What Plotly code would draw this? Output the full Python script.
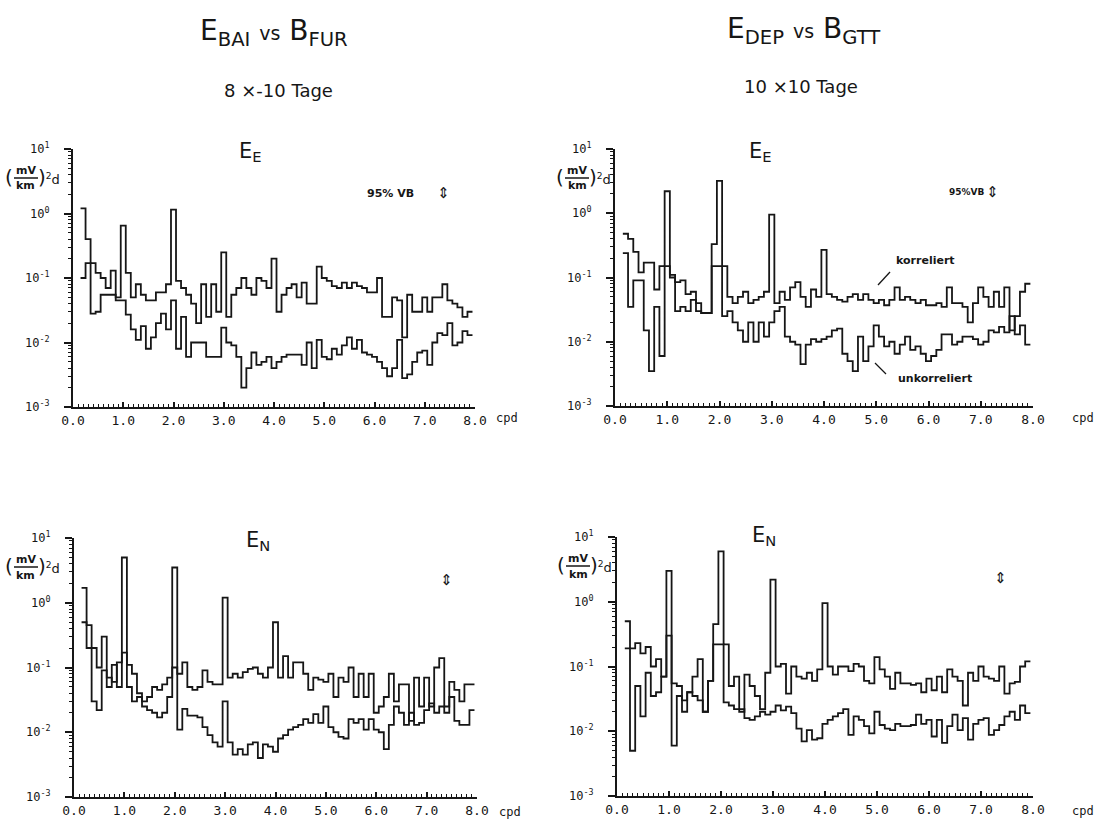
import plotly.graph_objects as go

# ---------------- data ----------------
# bin centre frequencies (cpd), bin width 0.1
FREQ = [0.2, 0.3, 0.4, 0.5, 0.6, 0.7, 0.8, 0.9,
        1.0, 1.1, 1.2, 1.3, 1.4, 1.5, 1.6, 1.7, 1.8, 1.9,
        2.0, 2.1, 2.2, 2.3, 2.4, 2.5, 2.6, 2.7, 2.8, 2.9,
        3.0, 3.1, 3.2, 3.3, 3.4, 3.5, 3.6, 3.7, 3.8, 3.9,
        4.0, 4.1, 4.2, 4.3, 4.4, 4.5, 4.6, 4.7, 4.8, 4.9,
        5.0, 5.1, 5.2, 5.3, 5.4, 5.5, 5.6, 5.7, 5.8, 5.9,
        6.0, 6.1, 6.2, 6.3, 6.4, 6.5, 6.6, 6.7, 6.8, 6.9,
        7.0, 7.1, 7.2, 7.3, 7.4, 7.5, 7.6, 7.7, 7.8, 7.9]
BIN_WIDTH = 0.1

# top-left: E_BAI vs B_FUR, E_E
BAI_EE_KORR = [1.2, 0.40, 0.17, 0.12, 0.10, 0.07, 0.13, 0.05,
               0.65, 0.12, 0.05, 0.08, 0.055, 0.045, 0.045, 0.06, 0.06, 0.08,
               1.15, 0.09, 0.07, 0.055, 0.04, 0.02, 0.08, 0.025, 0.08, 0.03,
               0.25, 0.025, 0.055, 0.07, 0.10, 0.07, 0.055, 0.10, 0.09, 0.07,
               0.20, 0.03, 0.055, 0.07, 0.08, 0.05, 0.085, 0.04, 0.04, 0.15,
               0.10, 0.09, 0.075, 0.07, 0.085, 0.07, 0.085, 0.075, 0.07, 0.06,
               0.06, 0.10, 0.025, 0.025, 0.05, 0.045, 0.012, 0.055, 0.03, 0.03,
               0.05, 0.03, 0.05, 0.05, 0.08, 0.045, 0.04, 0.035, 0.025, 0.03]
BAI_EE_UNKORR = [0.10, 0.17, 0.028, 0.03, 0.055, 0.055, 0.055, 0.045,
                 0.045, 0.027, 0.016, 0.011, 0.018, 0.008, 0.012, 0.02, 0.028, 0.016,
                 0.045, 0.008, 0.025, 0.006, 0.01, 0.01, 0.01, 0.006, 0.006, 0.006,
                 0.017, 0.01, 0.009, 0.006, 0.002, 0.004, 0.007, 0.0045, 0.005, 0.006,
                 0.004, 0.005, 0.006, 0.0065, 0.0065, 0.0065, 0.0045, 0.01, 0.004, 0.011,
                 0.006, 0.0055, 0.008, 0.0065, 0.009, 0.012, 0.008, 0.011, 0.007, 0.0065,
                 0.006, 0.005, 0.004, 0.003, 0.004, 0.011, 0.0028, 0.0032, 0.005, 0.007,
                 0.0075, 0.0045, 0.01, 0.014, 0.013, 0.02, 0.009, 0.01, 0.015, 0.013]

# top-right: E_DEP vs B_GTT, E_E
DEP_EE_KORR = [0.48, 0.40, 0.25, 0.12, 0.17, 0.17, 0.065, 0.15,
               2.2, 0.11, 0.085, 0.09, 0.055, 0.06, 0.04, 0.028, 0.028, 0.33,
               3.2, 0.15, 0.05, 0.04, 0.05, 0.06, 0.04, 0.045, 0.05, 0.06,
               0.95, 0.04, 0.06, 0.045, 0.07, 0.085, 0.05, 0.035, 0.065, 0.05,
               0.27, 0.055, 0.05, 0.045, 0.042, 0.05, 0.055, 0.045, 0.055, 0.045,
               0.04, 0.045, 0.037, 0.045, 0.07, 0.045, 0.05, 0.045, 0.04, 0.045,
               0.037, 0.037, 0.04, 0.035, 0.07, 0.04, 0.04, 0.035, 0.02, 0.04,
               0.07, 0.05, 0.035, 0.06, 0.035, 0.07, 0.015, 0.025, 0.06, 0.08]
DEP_EE_UNKORR = [0.24, 0.035, 0.09, 0.09, 0.015, 0.0035, 0.035, 0.006,
                 0.15, 0.10, 0.03, 0.035, 0.03, 0.045, 0.03, 0.028, 0.028, 0.15,
                 0.15, 0.025, 0.03, 0.02, 0.015, 0.01, 0.02, 0.01, 0.02, 0.012,
                 0.02, 0.03, 0.035, 0.012, 0.01, 0.009, 0.0045, 0.009, 0.011, 0.01,
                 0.011, 0.012, 0.015, 0.016, 0.0065, 0.005, 0.0035, 0.012, 0.005, 0.0085,
                 0.018, 0.012, 0.0085, 0.01, 0.0065, 0.009, 0.012, 0.0075, 0.0085, 0.0065,
                 0.005, 0.006, 0.0075, 0.013, 0.013, 0.009, 0.01, 0.012, 0.012, 0.011,
                 0.009, 0.01, 0.015, 0.014, 0.017, 0.014, 0.025, 0.013, 0.018, 0.009]

# bottom-left: E_BAI vs B_FUR, E_N
BAI_EN_KORR = [1.7, 0.45, 0.2, 0.1, 0.3, 0.05, 0.11, 0.05,
               5.0, 0.11, 0.08, 0.04, 0.03, 0.035, 0.05, 0.045, 0.055, 0.07,
               3.5, 0.08, 0.12, 0.05, 0.045, 0.05, 0.09, 0.06, 0.055, 0.055,
               1.2, 0.07, 0.08, 0.07, 0.085, 0.095, 0.1, 0.08, 0.07, 0.1,
               0.5, 0.07, 0.15, 0.07, 0.12, 0.12, 0.08, 0.045, 0.07, 0.065,
               0.06, 0.08, 0.035, 0.07, 0.06, 0.1, 0.035, 0.08, 0.035, 0.08,
               0.02, 0.025, 0.035, 0.08, 0.03, 0.055, 0.055, 0.015, 0.07, 0.025,
               0.07, 0.025, 0.1, 0.14, 0.025, 0.06, 0.045, 0.03, 0.055, 0.055]
BAI_EN_UNKORR = [0.5, 0.2, 0.03, 0.022, 0.09, 0.07, 0.06, 0.12,
                 0.17, 0.05, 0.03, 0.035, 0.025, 0.022, 0.02, 0.017, 0.02, 0.035,
                 0.1, 0.011, 0.023, 0.018, 0.018, 0.017, 0.012, 0.009, 0.007, 0.006,
                 0.03, 0.007, 0.0045, 0.0055, 0.0045, 0.0065, 0.007, 0.004, 0.0065, 0.006,
                 0.005, 0.008, 0.009, 0.011, 0.012, 0.013, 0.016, 0.014, 0.019, 0.014,
                 0.025, 0.012, 0.01, 0.0085, 0.008, 0.016, 0.014, 0.016, 0.011, 0.016,
                 0.011, 0.01, 0.0055, 0.013, 0.025, 0.02, 0.013, 0.02, 0.013, 0.014,
                 0.022, 0.028, 0.02, 0.025, 0.02, 0.035, 0.015, 0.013, 0.013, 0.022]

# bottom-right: E_DEP vs B_GTT, E_N
DEP_EN_KORR = [0.5, 0.19, 0.23, 0.16, 0.2, 0.1, 0.13, 0.07,
               3.0, 0.055, 0.05, 0.03, 0.04, 0.07, 0.13, 0.02, 0.06, 0.45,
               6.0, 0.22, 0.05, 0.07, 0.02, 0.075, 0.05, 0.035, 0.022, 0.08,
               2.2, 0.1, 0.11, 0.038, 0.1, 0.07, 0.065, 0.08, 0.06, 0.09,
               0.95, 0.1, 0.075, 0.1, 0.1, 0.085, 0.11, 0.1, 0.06, 0.055,
               0.14, 0.09, 0.07, 0.045, 0.08, 0.055, 0.055, 0.052, 0.055, 0.04,
               0.065, 0.043, 0.07, 0.04, 0.09, 0.07, 0.06, 0.025, 0.08, 0.06,
               0.1, 0.07, 0.065, 0.06, 0.1, 0.038, 0.055, 0.058, 0.1, 0.12]
DEP_EN_UNKORR = [0.19, 0.005, 0.05, 0.017, 0.08, 0.035, 0.04, 0.07,
                 0.3, 0.006, 0.035, 0.02, 0.04, 0.035, 0.03, 0.02, 0.06, 0.22,
                 0.22, 0.028, 0.025, 0.022, 0.022, 0.016, 0.015, 0.017, 0.02, 0.018,
                 0.02, 0.025, 0.021, 0.024, 0.019, 0.011, 0.007, 0.0104, 0.0074, 0.0078,
                 0.013, 0.015, 0.017, 0.019, 0.022, 0.0088, 0.017, 0.015, 0.012, 0.0093,
                 0.02, 0.0125, 0.011, 0.0104, 0.013, 0.012, 0.012, 0.0125, 0.018, 0.013,
                 0.015, 0.0083, 0.015, 0.0066, 0.012, 0.018, 0.0104, 0.016, 0.0074, 0.013,
                 0.015, 0.016, 0.0088, 0.0104, 0.0125, 0.017, 0.02, 0.015, 0.025, 0.019]

X_TICKS = [0, 1, 2, 3, 4, 5, 6, 7, 8]
X_TICK_LABELS = ["0.0", "1.0", "2.0", "3.0", "4.0", "5.0", "6.0", "7.0", "8.0"]
Y_TICKS = [0.001, 0.01, 0.1, 1, 10]
Y_TICK_LABELS = ["10<sup>-3</sup>", "10<sup>-2</sup>", "10<sup>-1</sup>",
                 "10<sup>0</sup>", "10<sup>1</sup>"]

HEADERS = ["E<sub>BAI</sub> <span style='font-size:19px'>vs</span> B<sub>FUR</sub>",
           "E<sub>DEP</sub> <span style='font-size:19px'>vs</span> B<sub>GTT</sub>"]
SUBHEADERS = ["8 \u00d7-10 Tage", "10 \u00d710 Tage"]
PANEL_TITLES = ["E<sub>E</sub>", "E<sub>E</sub>", "E<sub>N</sub>", "E<sub>N</sub>"]

# ---------------- layout helpers ----------------
W, H = 1101, 819
INK = "#161616"


def fx(p):
    return p / W


def fy(p):
    return 1 - p / H


# plot-area pixel boxes: (x_left, x_right, y_top, y_bottom)
BOXES = [(73, 475, 149, 407), (615, 1033, 149, 406),
         (74, 477, 538, 797), (617, 1033, 537, 796)]
SERIES = [(BAI_EE_KORR, BAI_EE_UNKORR), (DEP_EE_KORR, DEP_EE_UNKORR),
          (BAI_EN_KORR, BAI_EN_UNKORR), (DEP_EN_KORR, DEP_EN_UNKORR)]

MINOR_Y = [m * 10.0 ** e for e in range(-3, 1) for m in range(2, 10)]

fig = go.Figure()
layout = dict(
    width=W, height=H, paper_bgcolor="white", plot_bgcolor="white",
    margin=dict(l=0, r=0, t=0, b=0, pad=0, autoexpand=False), showlegend=False,
    font=dict(family="DejaVu Sans", color=INK),
)

for i, (box, (korr, unkorr)) in enumerate(zip(BOXES, SERIES), start=1):
    xl, xr, yt, yb = box
    for vals in (korr, unkorr):
        xs = [f - BIN_WIDTH / 2 for f in FREQ] + [FREQ[-1] + BIN_WIDTH / 2]
        ys = list(vals) + [vals[-1]]
        fig.add_trace(go.Scatter(
            x=xs, y=ys, mode="lines", line=dict(shape="hv", color=INK, width=1.8),
            xaxis=f"x{i}", yaxis=f"y{i}", hoverinfo="skip"))
    layout[f"xaxis{i}"] = dict(
        domain=[fx(xl), fx(xr)], anchor=f"y{i}", range=[0, 8],
        tickmode="array", tickvals=X_TICKS, ticktext=X_TICK_LABELS,
        ticks="inside", ticklen=5, tickwidth=1.5, tickcolor=INK,
        minor=dict(dtick=0.1, tick0=0, ticks="inside", ticklen=3, tickwidth=1, tickcolor=INK),
        showline=True, linecolor=INK, linewidth=2.2, showgrid=False, zeroline=False,
        tickfont=dict(family="DejaVu Sans Mono", size=13, color=INK),
    )
    layout[f"yaxis{i}"] = dict(
        domain=[fy(yb), fy(yt)], anchor=f"x{i}", type="log", range=[-3, 1],
        tickmode="array", tickvals=Y_TICKS, ticktext=Y_TICK_LABELS,
        ticks="outside", ticklen=7, tickwidth=1.5, tickcolor=INK,
        minor=dict(tickmode="array", tickvals=MINOR_Y, ticks="outside", ticklen=3,
                   tickwidth=1, tickcolor=INK),
        showline=True, linecolor=INK, linewidth=2.2, showgrid=False, zeroline=False,
        ticklabelstandoff=12,
        tickfont=dict(family="DejaVu Sans Mono", size=12, color=INK),
    )

ann = []


def text(t, x, y, size, family="DejaVu Sans", xanchor="center", yanchor="middle", bold=False):
    ann.append(dict(text=(f"<b>{t}</b>" if bold else t), x=fx(x), y=fy(y), xref="paper", yref="paper",
                    showarrow=False, xanchor=xanchor, yanchor=yanchor,
                    font=dict(family=family, size=size, color=INK)))


# headers
text(HEADERS[0], 274, 33, 28)
text(HEADERS[1], 804, 31, 28)
text(SUBHEADERS[0], 278, 90, 18)
text(SUBHEADERS[1], 801, 87, 18)

# panel titles
for t, (x, y) in zip(PANEL_TITLES, [(250, 152), (760, 152), (258, 541), (764, 536)]):
    text(t, x, y, 21)

shapes = []
# unit labels (mV/km)^2 d
for (x0, yc) in [(3, 177), (554, 177), (3, 566), (555, 565)]:
    text("(", x0, yc, 20, xanchor="left")
    text("mV", x0 + 23, yc - 7, 11, bold=True)
    text("km", x0 + 23, yc + 9, 11, bold=True)
    text(")<span style='font-size:13px'><sup>2</sup>d</span>", x0 + 33, yc, 20, xanchor="left")
    shapes.append(dict(type="line", xref="paper", yref="paper",
                       x0=fx(x0 + 11), x1=fx(x0 + 35), y0=fy(yc + 1), y1=fy(yc + 1),
                       line=dict(color=INK, width=1.5)))

# cpd labels
for (x, y) in [(507, 418), (1083, 418), (510, 812), (1083, 811)]:
    text("cpd", x, y, 12, family="DejaVu Sans Mono")

# confidence markers
text("95% VB", 390, 193, 11, bold=True)
text("95%VB", 967, 192, 9, bold=True)
for (x, y) in [(443, 193), (992, 192), (446, 580), (1000, 578)]:
    text("\u21d5", x, y, 15)

# korreliert / unkorreliert
text("korreliert", 925, 260, 11, bold=True)
text("unkorreliert", 935, 378, 11, bold=True)
shapes.append(dict(type="line", xref="paper", yref="paper", x0=fx(878), y0=fy(285),
                   x1=fx(890), y1=fy(272), line=dict(color=INK, width=1.3)))
shapes.append(dict(type="line", xref="paper", yref="paper", x0=fx(875), y0=fy(363),
                   x1=fx(886), y1=fy(374), line=dict(color=INK, width=1.3)))

layout["annotations"] = ann
layout["shapes"] = shapes
fig.update_layout(**layout)
fig.write_html("out.html", config={"displayModeBar": False},
               post_script="document.body.style.margin='0';")
